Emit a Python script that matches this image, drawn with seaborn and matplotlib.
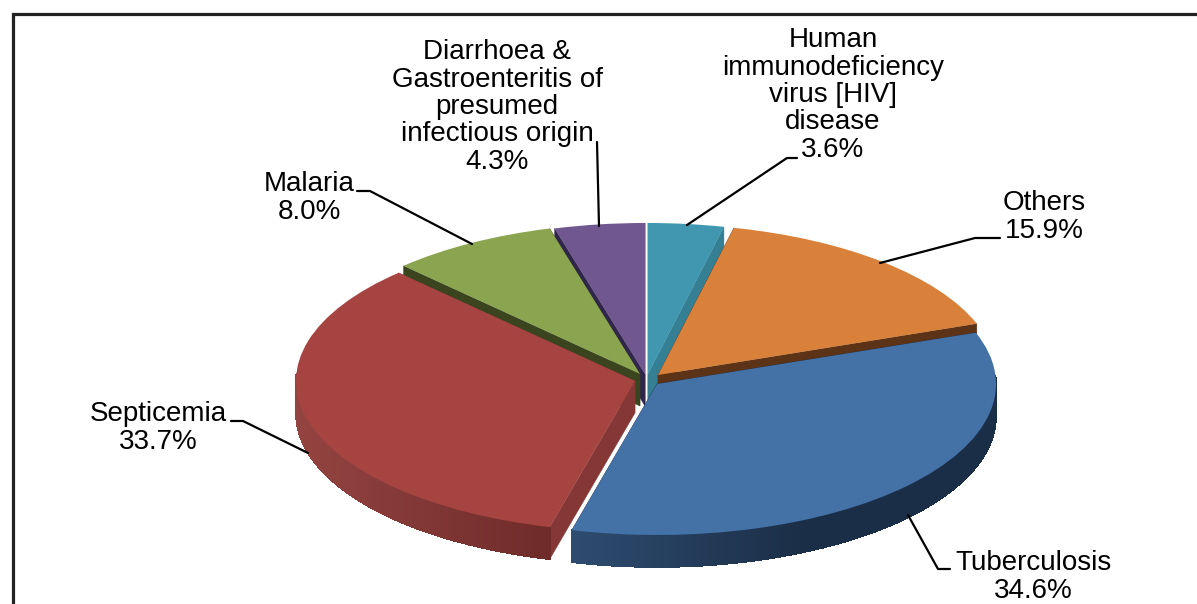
import numpy as np
import matplotlib
matplotlib.use('Agg')
import matplotlib.pyplot as plt
import seaborn as sns

# Chart data, clockwise from 12 o'clock
causes = ['Human\nimmunodeficiency\nvirus [HIV]\ndisease', 'Others', 'Tuberculosis', 'Septicemia',
          'Malaria', 'Diarrhoea &\nGastroenteritis of\npresumed\ninfectious origin']
shares = [3.6, 15.9, 34.6, 33.7, 8.0, 4.3]
top_colors = ['#4197B0', '#D9813B', '#4471A6', '#A64442', '#8AA44F', '#70578F']
cut_colors = ['#357F94', '#5C3317', '#1B2E47', '#853735', '#3A451F', '#30254A']
rim_left = ['#357F94', '#5C3317', '#2E4C70', '#944441', '#3A451F', '#30254A']
rim_right = ['#357F94', '#5C3317', '#1B2E47', '#6E2B2A', '#3A451F', '#30254A']

sns.set_theme(style='white')
plt.rcParams['font.family'] = ['Liberation Sans', 'DejaVu Sans']

# Pie geometry in pixels: the pie is squashed by the y scale of the axes
W, H = 1197, 604
RX, RY, DEPTH = 339, 151, 32
SQUASH = RY / RX
centers = [(648, 374), (658, 375), (657, 384), (635, 381), (640, 374), (645, 374)]
draw_order = [5, 0, 4, 1, 3, 2]  # back slices first


def to_data(px, py):
    return px, (H - py) / SQUASH


fig = plt.figure(figsize=(W / 100, H / 100), dpi=100)
ax = fig.add_axes([0, 0, 1, 1])
wedges, _ = ax.pie(shares, startangle=90, counterclock=False, radius=RX, wedgeprops={'linewidth': 0})
ax.set_aspect('auto')
ax.set_xlim(0, W)
ax.set_ylim(0, H / SQUASH)
ax.set_axis_off()

drop = DEPTH / SQUASH
for rank, i in enumerate(draw_order):
    w = wedges[i]
    cx, cy = to_data(*centers[i])
    w.set_center((cx, cy))
    w.set_facecolor(top_colors[i])
    w.set_zorder(2 * rank + 1)

    # side walls from the two cut edges
    for ang in (w.theta1, w.theta2):
        ex = cx + RX * np.cos(np.radians(ang))
        ey = cy + RX * np.sin(np.radians(ang))
        ax.fill([cx, ex, ex, cx], [cy, ey, ey - drop, cy - drop], color=cut_colors[i],
                lw=0.3, zorder=2 * rank)

    # outer rim, shaded from left to right
    angles = np.linspace(w.theta1, w.theta2, 240)
    xs = cx + RX * np.cos(np.radians(angles))
    ys = cy + RX * np.sin(np.radians(angles))
    c0 = np.array(matplotlib.colors.to_rgb(rim_left[i]))
    c1 = np.array(matplotlib.colors.to_rgb(rim_right[i]))
    for k in range(len(angles) - 1):
        if np.sin(np.radians(angles[k])) > 0.05:
            continue
        if i == 2:
            # tuberculosis reaches its darkest shade by the middle of the rim
            frac = np.clip((xs[k] - xs.min()) / 230, 0, 1)
        else:
            frac = (xs[k] - xs.min()) / (xs.max() - xs.min())
        ax.fill([xs[k], xs[k + 1], xs[k + 1], xs[k]],
                [ys[k], ys[k + 1], ys[k + 1] - drop, ys[k] - drop],
                color=c0 + (c1 - c0) * frac, lw=0.5, antialiased=False, zorder=2 * rank)

# Overlay in pixel coordinates for the frame, leaders and labels
over = fig.add_axes([0, 0, 1, 1], facecolor='none')
over.set_xlim(0, W)
over.set_ylim(H, 0)
over.set_axis_off()

over.plot([13, 13, W], [H, 14, 14], color='#222222', lw=2.3, solid_joinstyle='miter')

leaders = [[(797, 158), (787, 158), (687, 225)],
           [(1000, 238), (975, 238), (880, 263)],
           [(950, 569), (938, 569), (908, 515)],
           [(231, 421), (243, 421), (308, 453)],
           [(357, 191), (370, 191), (472, 244)],
           [(597, 142), (599, 226)]]
label_pos = [(833, 95), (1044, 217), (1033, 577), (158, 428), (309, 198), (497, 107)]

for i, name in enumerate(causes):
    xs, ys = zip(*leaders[i])
    over.plot(xs, ys, color='black', lw=1.6)
    over.text(label_pos[i][0], label_pos[i][1], f'{name}\n{shares[i]:.1f}%', ha='center', va='center',
              ma='center', fontsize=20, color='black', linespacing=1.065)

fig.savefig('out.png', dpi=100)
